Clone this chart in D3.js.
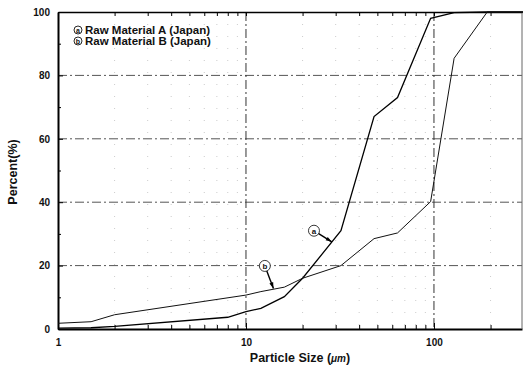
<!DOCTYPE html>
<html>
<head>
<meta charset="utf-8">
<script src="https://cdn.jsdelivr.net/npm/d3@7"></script>
<style>
body { margin: 0; background: #fff; }
svg { display: block; }
.lbl { font-family: "Liberation Sans", Arial, sans-serif; font-weight: bold; fill: #111; }
</style>
</head>
<body>
<svg id="chart" width="523" height="373"></svg>
<script>
// particle sizes (um) and cumulative percent
var sizesA = [1, 1.5, 2, 8, 10, 12, 16, 20, 32, 48, 64, 96, 128, 192, 300];
var pctA   = [0.3, 0.4, 0.8, 3.7, 5.5, 6.5, 10.2, 16, 31, 67, 73, 98, 99.8, 100, 100];
var sizesB = [1, 1.5, 2, 10, 12, 16, 20, 32, 48, 64, 96, 128, 192, 300];
var pctB   = [1.8, 2.3, 4.5, 10.7, 11.8, 13.2, 16, 20, 28.5, 30.3, 40.2, 85.4, 100, 100];
var xMajor = [1, 10, 100];
var yMajor = [0, 20, 40, 60, 80, 100];
var legendNames = ["Raw Material A (Japan)", "Raw Material B (Japan)"];

var svg = d3.select("#chart"),
    margin = {top: 12, right: 1, bottom: 44, left: 58},
    width = 523 - margin.left - margin.right,
    height = 373 - margin.top - margin.bottom;

var g = svg.append("g")
  .attr("transform", "translate(" + margin.left + "," + margin.top + ")");

var x = d3.scaleLog().domain([1, 294]).range([0, width]);
var y = d3.scaleLinear().domain([0, 100]).range([height, 0]);

// minor tick values on the log axis
var xMinor = [];
[1, 10, 100].forEach(function(dec) {
  for (var k = 2; k <= 9; k++) if (dec * k <= 294) xMinor.push(dec * k);
});
var yMinor = d3.range(10, 100, 20);

// grid: faint dotted minor verticals, dash-dot majors
g.append("g").selectAll("line").data(xMinor).enter().append("line")
  .attr("x1", function(d) { return x(d); }).attr("x2", function(d) { return x(d); })
  .attr("y1", 0).attr("y2", height)
  .attr("stroke", "#ccc").attr("stroke-width", 1).attr("stroke-dasharray", "1,11");

g.append("g").selectAll("line").data(yMajor.slice(1, 5)).enter().append("line")
  .attr("x1", 0).attr("x2", width)
  .attr("y1", function(d) { return y(d); }).attr("y2", function(d) { return y(d); })
  .attr("stroke", "#555").attr("stroke-width", 1).attr("stroke-dasharray", "9,3,2,3");

g.append("g").selectAll("line").data(xMajor.slice(1)).enter().append("line")
  .attr("x1", function(d) { return x(d); }).attr("x2", function(d) { return x(d); })
  .attr("y1", 0).attr("y2", height)
  .attr("stroke", "#333").attr("stroke-width", 1).attr("stroke-dasharray", "9,3,2,3");

// axes with inward ticks
var fmt = function(d) { return d; };
g.append("g").attr("transform", "translate(0," + height + ")")
  .call(d3.axisBottom(x).tickValues(xMajor).tickFormat(fmt).tickSizeInner(-6).tickSizeOuter(0).tickPadding(10))
  .call(function(a) {
    a.select(".domain").attr("stroke-width", 2.2).attr("stroke", "#000");
    a.selectAll("text").attr("class", "lbl").style("font-size", "10px");
  });
g.append("g").attr("transform", "translate(0," + height + ")")
  .call(d3.axisBottom(x).tickValues(xMinor).tickFormat("").tickSizeInner(-4).tickSizeOuter(0))
  .call(function(a) { a.select(".domain").remove(); });

g.append("g")
  .call(d3.axisTop(x).tickValues(xMajor.concat(xMinor)).tickFormat("").tickSizeInner(-4).tickSizeOuter(0))
  .call(function(a) { a.select(".domain").attr("stroke-width", 1.6); });

g.append("g")
  .call(d3.axisLeft(y).tickValues(yMajor).tickFormat(fmt).tickSizeInner(-5).tickSizeOuter(0).tickPadding(8))
  .call(function(a) {
    a.select(".domain").attr("stroke-width", 2);
    a.selectAll("text").attr("class", "lbl").style("font-size", "10px");
  });
g.append("g")
  .call(d3.axisLeft(y).tickValues(yMinor).tickFormat("").tickSizeInner(-3).tickSizeOuter(0))
  .call(function(a) { a.select(".domain").remove(); });

g.append("line").attr("x1", width).attr("x2", width).attr("y1", 0).attr("y2", height)
  .attr("stroke", "#666").attr("stroke-width", 1);

// curves
var lineA = d3.line().x(function(d, i) { return x(sizesA[i]); }).y(function(d) { return y(d); });
var lineB = d3.line().x(function(d, i) { return x(sizesB[i]); }).y(function(d) { return y(d); });

g.append("path").datum(pctA).attr("d", lineA)
  .attr("fill", "none").attr("stroke", "#000").attr("stroke-width", 1.3);
g.append("path").datum(pctB).attr("d", lineB)
  .attr("fill", "none").attr("stroke", "#111").attr("stroke-width", 1);

// callouts: circled letter with arrow pointing at curve
var callouts = [
  {letter: "a", cx: x(23), cy: y(31), tx: x(28.6), ty: y(27.5)},
  {letter: "b", cx: x(12.6), cy: y(19.9), tx: x(14), ty: y(12.8)}
];
callouts.forEach(function(c) {
  g.append("circle").attr("cx", c.cx).attr("cy", c.cy).attr("r", 5.5)
    .attr("fill", "#fff").attr("stroke", "#222").attr("stroke-width", 0.9);
  g.append("text").attr("class", "lbl").attr("x", c.cx).attr("y", c.cy + 3)
    .attr("text-anchor", "middle").style("font-size", "8px").text(c.letter);
  var ang = Math.atan2(c.ty - c.cy, c.tx - c.cx);
  var sx = c.cx + Math.cos(ang) * 5.5, sy = c.cy + Math.sin(ang) * 5.5;
  g.append("line").attr("x1", sx).attr("y1", sy).attr("x2", c.tx).attr("y2", c.ty)
    .attr("stroke", "#000").attr("stroke-width", 1.4);
  var hx = c.tx - Math.cos(ang) * 6, hy = c.ty - Math.sin(ang) * 6;
  var px = -Math.sin(ang) * 2, py = Math.cos(ang) * 2;
  g.append("path")
    .attr("d", "M" + c.tx + "," + c.ty + "L" + (hx + px) + "," + (hy + py) + "L" + (hx - px) + "," + (hy - py) + "Z")
    .attr("fill", "#000");
});

// legend
legendNames.forEach(function(name, i) {
  var ly = 18 + i * 11;
  g.append("circle").attr("cx", 20).attr("cy", ly).attr("r", 4)
    .attr("fill", "#fff").attr("stroke", "#111").attr("stroke-width", 0.9);
  g.append("text").attr("class", "lbl").attr("x", 20).attr("y", ly + 2.5)
    .attr("text-anchor", "middle").style("font-size", "7px").text(i === 0 ? "a" : "b");
  g.append("text").attr("class", "lbl").attr("x", 27).attr("y", ly + 4)
    .style("font-size", "11.5px").text(name);
});

// axis titles
var xt = svg.append("text").attr("class", "lbl")
  .attr("x", 300).attr("y", 362).attr("text-anchor", "middle").style("font-size", "12.5px");
xt.append("tspan").text("Particle Size (");
xt.append("tspan").style("font-style", "italic").style("font-size", "10px").text("μm");
xt.append("tspan").text(")");

svg.append("text").attr("class", "lbl")
  .attr("transform", "translate(17," + 172 + ") rotate(-90)")
  .attr("text-anchor", "middle").style("font-size", "12.5px").text("Percent(%)");
</script>
</body>
</html>
